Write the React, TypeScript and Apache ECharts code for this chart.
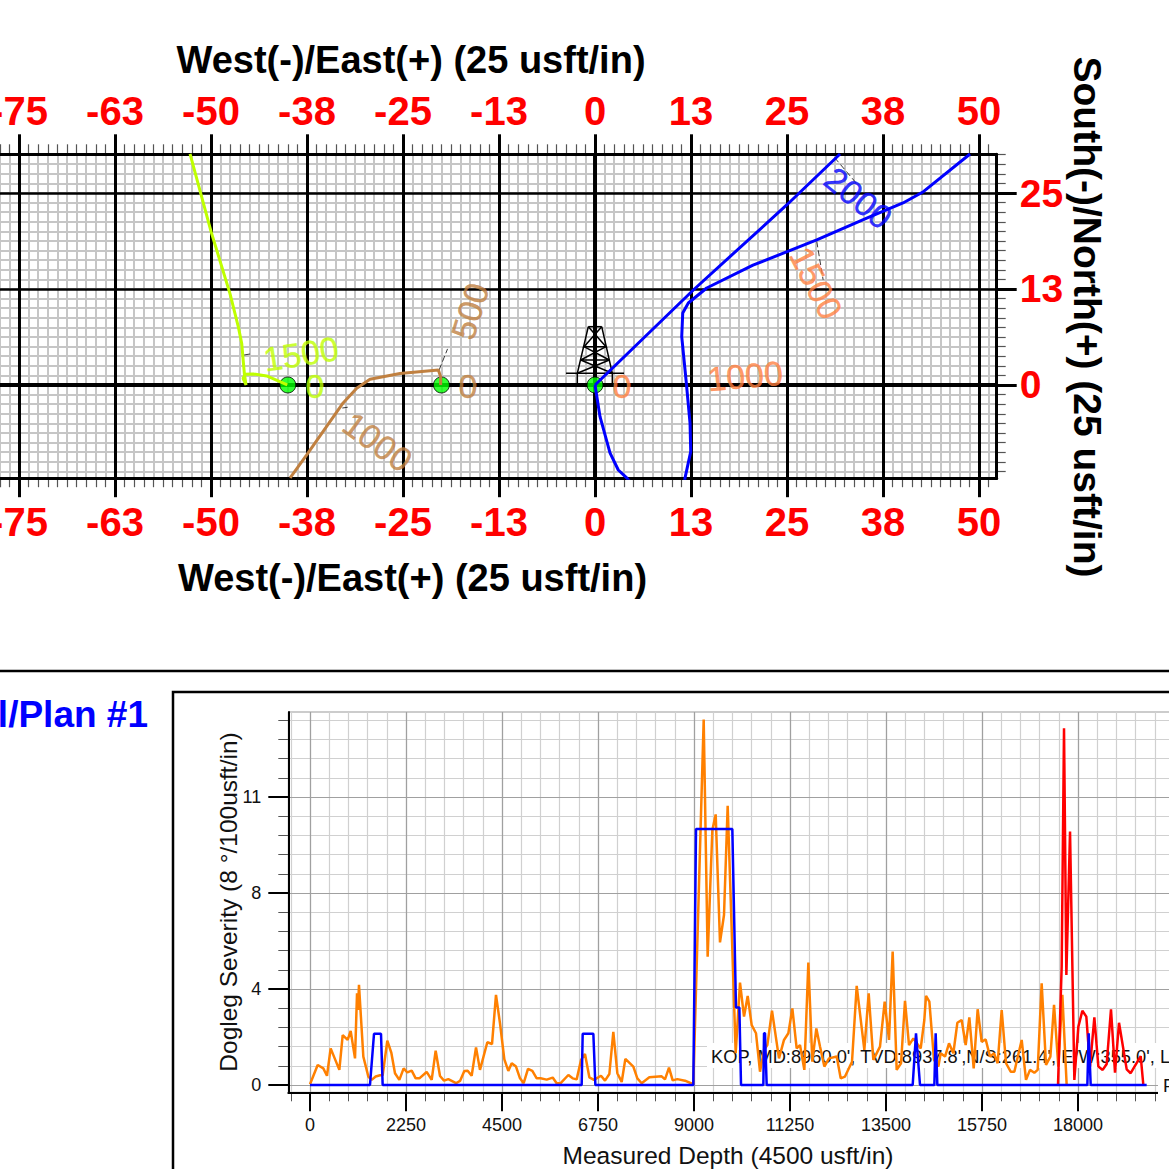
import React, { useEffect, useRef } from "react";
import * as echarts from "echarts";

// ---------- Plan view: axis ticks ----------
const ewTickValues = [-75, -62.5, -50, -37.5, -25, -12.5, 0, 12.5, 25, 37.5, 50];
const ewTickLabels = ["-75", "-63", "-50", "-38", "-25", "-13", "0", "13", "25", "38", "50"];
const nsTickValues = [0, 12.5, 25];
const nsTickLabels = ["0", "13", "25"];

// ---------- Plan view: wells (E/W, N/S in usft/in chart units) ----------
const limeWell = [[-40.07, 0], [-42.75, 1.17], [-44.5, 1.43], [-45.57, 1.39], [-45.83, 0.87], [-45.44, 0], [-45.66, 1.5], [-46.0, 5.4], [-46.45, 7.6], [-47.53, 11.9], [-50.0, 20], [-52.73, 30.1]];
const brownWell = [[-20.1, 0], [-20.1, 1.08], [-20.4, 1.95], [-25.4, 1.5], [-29.3, 0.74], [-31.03, -0.43], [-32.8, -2.34], [-37.54, -9.11], [-39.7, -12.1]];
const planWell = [[0, 0], [12.8, 12.37], [24.96, 23.44], [31.9, 30.08]];
const actualWell = [[0, 0], [0.65, -4.13], [1.95, -8.85], [3.03, -11.07], [4.13, -12.1], [4.9, -13], [11.6, -13], [11.72, -12.1], [12.46, -8.68], [12.37, -4.95], [11.85, 0.65], [11.29, 6.29], [11.42, 9.375], [12.15, 10.68], [14.54, 12.63], [20.57, 15.6], [28.87, 18.9], [35.38, 21.74], [40.1, 23.7], [42.75, 25.17], [48.83, 30.08]];
const surfaceLocations = [[-40, 0], [-20, 0], [0, 0]];
const zeroNS = [[-87.5, 0], [52.3, 0]];
const zeroEW = [[0, -12.14], [0, 30.04]];
const leaderLines = [
  [[-45.7, 3.9], [-44.9, 4.04]],
  [[-32.9, -3.0], [-32.2, -2.9]],
  [[-20.3, 1.95], [-19.2, 4.7]],
  [[11.9, 1.17], [12.7, 1.17]],
  [[28.87, 18.7], [29.7, 13.7]],
  [[31.2, 29.6], [34.0, 26.3]],
];
const depthLabels: [number, number, string, number, string][] = [
  [-38.28, 4.04, "1500", 9, "#BFFF00"],
  [-36.46, -0.13, "0", 0, "#BFFF00"],
  [-16.54, -0.13, "0", 0, "#C08040"],
  [-16.28, 9.6, "500", 73, "#C08040"],
  [-28.3, -7.42, "1000", -36, "#C08040"],
  [3.52, -0.13, "0", 0, "#FF8040"],
  [19.53, 1.17, "1000", 5, "#FF8040"],
  [28.78, 13.28, "1500", -63, "#FF8040"],
  [34.3, 24.35, "2000", -39, "#0000FF"],
];
// Rig symbol strokes, screen offsets from the surface location
const rigStrokes = [
  [[-6.7, -58.3], [6.7, -58.3]],
  [[-6.7, -58.3], [-17.7, -11.7], [-17.7, 0]],
  [[6.7, -58.3], [17.3, -11.7], [17.3, 0]],
  [[-29, -11.7], [29, -11.7]],
  [[-6.7, -58.3], [11, -38.3], [-11, -38.3], [6.7, -58.3]],
  [[-11, -38.3], [14.3, -25], [-14.3, -25], [11, -38.3]],
  [[-14.3, -25], [17.3, -11.7]],
  [[14.3, -25], [-17.7, -11.7]],
];

// ---------- Dogleg severity: axis ticks ----------
const mdTickValues = [0, 2250, 4500, 6750, 9000, 11250, 13500, 15750, 18000];
const mdTickLabels = ["0", "2250", "4500", "6750", "9000", "11250", "13500", "15750", "18000"];
const dlsTickValues = [0, 3.75, 7.5, 11.25];
const dlsTickLabels = ["0", "4", "8", "11"];

// ---------- Dogleg severity: series (MD, DLS) ----------
const orangeDogleg = [[0, 0.03], [180, 0.78], [312, 0.65], [398, 0.36], [484, 1.43], [688, 0.59], [766, 1.95], [883, 1.76], [953, 2.11], [1055, 1.04], [1102, 3.58], [1125, 2.93], [1148, 3.91], [1250, 1.11], [1367, 0.33], [1445, 0.2], [1539, 0.33], [1641, 0.38], [1703, 0.38], [1812, 1.73], [1906, 1.26], [1992, 0.46], [2094, 0.2], [2195, 0.65], [2281, 0.49], [2383, 0.56], [2477, 0.26], [2563, 0.26], [2734, 0.51], [2852, 0.2], [2945, 1.34], [3047, 0.35], [3141, 0.17], [3242, 0.23], [3422, 0.07], [3516, 0.16], [3617, 0.55], [3695, 0.56], [3789, 0.36], [3891, 1.47], [3984, 0.59], [4156, 1.67], [4266, 1.6], [4359, 3.52], [4453, 2.41], [4555, 1.0], [4648, 0.55], [4727, 0.85], [4828, 0.72], [4922, 0.26], [5008, 0.07], [5109, 0.63], [5211, 0.55], [5313, 0.26], [5406, 0.26], [5547, 0.21], [5688, 0.29], [5781, 0.07], [5875, 0.07], [6055, 0.39], [6156, 0.26], [6250, 0.22], [6352, 0.98], [6445, 1.21], [6547, 0.3], [6656, 0.2], [6820, 0.36], [6914, 0.17], [7016, 0.43], [7109, 2.08], [7203, 0.46], [7305, 0.12], [7391, 1.02], [7578, 0.72], [7672, 0.26], [7773, 0.07], [7953, 0.3], [8242, 0.34], [8320, 0.22], [8414, 0.68], [8500, 0.18], [8609, 0.23], [8789, 0.17], [8984, 0.03], [9227, 14.28], [9320, 5.01], [9430, 9.96], [9508, 10.57], [9609, 5.57], [9703, 6.64], [9789, 10.91], [9977, 1.24], [10078, 4.0], [10172, 2.67], [10258, 3.48], [10352, 2.34], [10453, 2.02], [10547, 0.52], [10641, 1.37], [10719, 1.56], [10828, 2.9], [10992, 1.04], [11109, 1.76], [11211, 2.02], [11305, 2.99], [11406, 1.43], [11484, 1.56], [11586, 0.59], [11680, 4.78], [11773, 0.91], [11867, 2.21], [11953, 1.5], [12055, 0.72], [12164, 1.04], [12344, 1.11], [12438, 0.26], [12539, 0.33], [12703, 0.91], [12813, 3.87], [12992, 1.37], [13094, 3.58], [13203, 0.98], [13359, 1.5], [13469, 3.26], [13570, 1.76], [13656, 5.21], [13750, 0.59], [13852, 0.85], [13945, 3.29], [14039, 1.56], [14141, 1.82], [14313, 1.43], [14398, 2.54], [14438, 3.48], [14516, 3.26], [14625, 0.98], [14727, 0.72], [14781, 1.24], [14883, 1.11], [14977, 1.63], [15078, 1.24], [15172, 2.43], [15273, 2.54], [15367, 1.56], [15453, 2.64], [15555, 0.65], [15648, 2.96], [15742, 1.69], [15836, 1.78], [15938, 1.11], [16031, 1.24], [16117, 0.85], [16211, 2.93], [16313, 0.85], [16422, 0.52], [16508, 0.52], [16680, 1.76], [16781, 0.2], [16875, 0.59], [16977, 0.48], [17055, 0.59], [17148, 3.97], [17250, 0.78], [17352, 1.11], [17438, 3.13], [17539, 0.72], [17633, 3.52], [17734, 0]];
const redDogleg = [[17531, 0], [17617, 4.62], [17672, 13.93], [17727, 4.3], [17813, 9.9], [17914, 0.2], [18008, 2.28], [18102, 2.9], [18195, 2.67], [18281, 0.72], [18383, 2.64], [18477, 0.72], [18578, 0.59], [18672, 0.82], [18773, 2.96], [18867, 0.48], [18961, 2.43], [19141, 0.61], [19234, 0.46], [19469, 1.13], [19531, 0]];
const blueDogleg = [[0, 0], [1406, 0], [1500, 2], [1664, 2], [1703, 0], [6367, 0], [6391, 2], [6641, 2], [6688, 0], [8984, 0], [9047, 10], [9898, 10], [9984, 3.03], [10063, 3.03], [10102, 0], [10625, 0], [10641, 2.02], [10664, 2.02], [10703, 0], [14125, 0], [14203, 2.02], [14297, 0], [14633, 0], [14664, 2.02], [14703, 0], [18219, 0], [18250, 2.02], [18297, 0], [19609, 0]];

const kopText = "KOP, MD:8960.0', TVD:8937.8',N/S:261.4', E/W:355.0', L";
const FONT = "'Liberation Sans', Arial, sans-serif";

function steps(from: number, to: number, step: number): number[] {
  const out: number[] = [];
  const n = Math.round((to - from) / step);
  for (let i = 0; i <= n; i++) out.push(from + i * step);
  return out;
}
function labeller(values: number[], labels: string[]) {
  const m = new Map(values.map((v, i) => [v, labels[i]]));
  return (v: number) => m.get(v) ?? "";
}

function buildOption() {
  const ewMinor = steps(-87.5, 51.25, 1.25);
  const nsMinor = steps(-11.25, 30, 1.25);
  const mdMinor = steps(-450, 20250, 450);
  const dlsMinor = steps(0, 14.25, 0.75);

  const base = (extra: any) => ({ type: "value", axisLine: { onZero: false, show: false }, axisLabel: { show: false }, axisTick: { show: false }, splitLine: { show: false }, ...extra });
  const bigLabel = (values: number[], labels: string[], margin: number, fontSize: number) => ({
    show: true,
    margin,
    fontFamily: FONT,
    fontWeight: "bold",
    fontSize,
    color: "#FF0000",
    customValues: values,
    formatter: labeller(values, labels),
  });
  const smallLabel = (values: number[], labels: string[], margin: number) => ({
    show: true,
    margin,
    fontFamily: FONT,
    fontSize: 18,
    color: "#111111",
    customValues: values,
    formatter: labeller(values, labels),
  });
  const topXRange = { gridIndex: 0, min: -87.5, max: 52.3 };
  const topYRange = { gridIndex: 0, min: -12.14, max: 30.04 };
  const lowXRange = { gridIndex: 1, min: -508.6, max: 20859 };
  const lowYRange = { gridIndex: 1, min: -0.285, max: 14.57 };
  const black3 = { show: true, onZero: false, lineStyle: { color: "#000", width: 3 } };
  const black2 = { show: true, onZero: false, lineStyle: { color: "#000", width: 2 } };
  const lightPlan = { show: true, lineStyle: { color: "#C6C6C6", width: 2 } };
  const minorPlanTick = { color: "#555", width: 1.2 };
  const lightDogleg = { show: true, lineStyle: { color: "#D0D0D0", width: 1.2 } };
  const darkDogleg = { show: true, lineStyle: { color: "#A0A0A0", width: 1.2 } };

  const xAxis = [
    // 0: plan, bottom major
    base({ ...topXRange, position: "bottom", z: 1, axisLine: black3, axisLabel: bigLabel(ewTickValues, ewTickLabels, 24, 40),
      axisTick: { show: true, length: 19, customValues: ewTickValues, lineStyle: { color: "#000", width: 3 } },
      splitLine: { show: true, lineStyle: { color: "#000", width: 3 } } }),
    // 1: plan, top major
    base({ ...topXRange, position: "top", z: 1, axisLine: black3, axisLabel: bigLabel(ewTickValues, ewTickLabels, 23, 40),
      axisTick: { show: true, length: 20, customValues: ewTickValues, lineStyle: { color: "#000", width: 3 } } }),
    // 2: plan, bottom minor
    base({ ...topXRange, position: "bottom", z: 0,
      axisTick: { show: true, length: 9, customValues: ewMinor, lineStyle: minorPlanTick },
      splitLine: lightPlan }),
    // 3: plan, top minor
    base({ ...topXRange, position: "top", z: 0,
      axisTick: { show: true, length: 10, customValues: ewMinor, lineStyle: minorPlanTick } }),
    // 4: dogleg, major
    base({ ...lowXRange, position: "bottom", z: 1, axisLine: black2, axisLabel: smallLabel(mdTickValues, mdTickLabels, 24),
      axisTick: { show: true, length: 19, customValues: mdTickValues, lineStyle: { color: "#000", width: 2 } },
      splitLine: darkDogleg }),
    // 5: dogleg, minor
    base({ ...lowXRange, position: "bottom", z: 0,
      axisTick: { show: true, length: 9, customValues: mdMinor, lineStyle: { color: "#555", width: 1 } },
      splitLine: lightDogleg }),
  ];
  const yAxis = [
    base({ ...topYRange, position: "right", z: 1, axisLine: black3, axisLabel: bigLabel(nsTickValues, nsTickLabels, 23, 39),
      axisTick: { show: true, length: 20, customValues: nsTickValues, lineStyle: { color: "#000", width: 3 } },
      splitLine: { show: true, lineStyle: { color: "#000", width: 2.5 } } }),
    base({ ...topYRange, position: "right", z: 0,
      axisTick: { show: true, length: 9, customValues: nsMinor, lineStyle: minorPlanTick },
      splitLine: lightPlan }),
    base({ ...lowYRange, position: "left", z: 1, axisLine: black2, axisLabel: smallLabel(dlsTickValues, dlsTickLabels, 27),
      axisTick: { show: true, length: 20, customValues: dlsTickValues, lineStyle: { color: "#000", width: 2 } },
      splitLine: darkDogleg }),
    base({ ...lowYRange, position: "left", z: 0,
      axisTick: { show: true, length: 10, customValues: dlsMinor, lineStyle: { color: "#555", width: 1 } },
      splitLine: lightDogleg }),
  ];

  const planLine = (name: string, data: number[][], color: string, width: number, z = 4, extra: any = {}) => ({
    type: "line", name, data, xAxisIndex: 0, yAxisIndex: 0, symbol: "none", silent: true, z,
    lineStyle: { color, width, ...extra }, itemStyle: { color },
  });
  const doglegLine = (name: string, data: number[][], color: string, width: number, z: number) => ({
    type: "line", name, data, xAxisIndex: 4, yAxisIndex: 2, symbol: "none", silent: true, z,
    lineStyle: { color, width }, itemStyle: { color },
  });

  const leaders: (number | null)[][] = [];
  leaderLines.forEach((l) => { leaders.push(l[0], l[1], [null, null]); });

  const series: any[] = [
    planLine("zero N/S", zeroNS, "#000", 4, 2),
    planLine("zero E/W", zeroEW, "#000", 4, 2),
    {
      type: "custom", name: "rig", xAxisIndex: 0, yAxisIndex: 0, data: [[0, 0]], silent: true, z: 3, clip: false,
      renderItem: (_p: any, api: any) => {
        const [cx, cy] = api.coord([api.value(0), api.value(1)]);
        return {
          type: "group", x: cx, y: cy,
          children: rigStrokes.map((pts) => ({
            type: "polyline", shape: { points: pts }, style: { stroke: "#000", lineWidth: 1.5, fill: "none" },
          })),
        };
      },
    },
    {
      type: "scatter", name: "surface", data: surfaceLocations, xAxisIndex: 0, yAxisIndex: 0, symbolSize: 16, silent: true, z: 3,
      itemStyle: { color: "#00FF00", borderColor: "#000", borderWidth: 1 },
    },
    planLine("leaders", leaders as any, "#222", 0.9, 3, { type: [6, 3] }),
    planLine("lime well", limeWell, "#BFFF00", 3),
    planLine("brown well", brownWell, "#C08040", 3),
    planLine("plan well", planWell, "#0000FF", 3),
    planLine("actual well", actualWell, "#0000FF", 3),
    {
      type: "scatter", name: "depth labels", xAxisIndex: 0, yAxisIndex: 0, symbolSize: 1, silent: true, z: 5,
      itemStyle: { color: "transparent" },
      data: depthLabels.map(([x, y, text, rotate, color]) => ({
        value: [x, y],
        label: { show: true, position: "inside", formatter: text, rotate, color, fontFamily: FONT, fontSize: 34, align: "center", verticalAlign: "middle", textBorderColor: color, textBorderWidth: 0.4 },
      })),
    },
    doglegLine("orange dogleg", orangeDogleg, "#FF8000", 2.5, 3),
    doglegLine("red dogleg", redDogleg, "#FF0000", 2.5, 4),
    doglegLine("blue dogleg", blueDogleg, "#0000FF", 2.5, 4),
  ];

  const titleStyle = { fontFamily: FONT, fontWeight: "bold", fontSize: 38, fill: "#000", textAlign: "center", textVerticalAlign: "middle" };
  const graphic = [
    { type: "text", x: 411, y: 60, z: 10, style: { ...titleStyle, text: "West(-)/East(+) (25 usft/in)" } },
    { type: "text", x: 412.5, y: 578, z: 10, style: { ...titleStyle, text: "West(-)/East(+) (25 usft/in)" } },
    { type: "text", x: 1087, y: 317, z: 10, rotation: -Math.PI / 2, style: { ...titleStyle, fontSize: 39, text: "South(-)/North(+) (25 usft/in)" } },
    { type: "line", z: 10, shape: { x1: 0, y1: 671, x2: 1169, y2: 671 }, style: { stroke: "#000", lineWidth: 2.5 } },
    { type: "rect", z: 10, shape: { x: 173, y: 692, width: 1100, height: 600 }, style: { fill: "none", stroke: "#000", lineWidth: 2.5 } },
    { type: "text", x: 148, y: 714, z: 10, style: { fontFamily: FONT, fontWeight: "bold", fontSize: 37, fill: "#0000FF", text: "l/Plan #1", textAlign: "right", textVerticalAlign: "middle" } },
    { type: "rect", z: 1.5, shape: { x: 707, y: 1043, width: 470, height: 25 }, style: { fill: "#fff" } },
    { type: "text", x: 711, y: 1056, z: 1.6, style: { fontFamily: FONT, fontSize: 18.3, fill: "#111", text: kopText, textAlign: "left", textVerticalAlign: "middle" } },
    { type: "rect", z: 1.5, shape: { x: 1158, y: 1072, width: 20, height: 26 }, style: { fill: "#fff" } },
    { type: "text", x: 1163, y: 1085, z: 1.6, style: { fontFamily: FONT, fontSize: 18.3, fill: "#111", text: "P", textAlign: "left", textVerticalAlign: "middle" } },
    { type: "text", x: 728, y: 1155, z: 10, style: { fontFamily: FONT, fontSize: 24.5, fill: "#111", text: "Measured Depth (4500 usft/in)", textAlign: "center", textVerticalAlign: "middle" } },
    { type: "text", x: 228, y: 902, z: 10, rotation: Math.PI / 2, style: { fontFamily: FONT, fontSize: 24.5, fill: "#111", text: "Dogleg Severity (8 °/100usft/in)", textAlign: "center", textVerticalAlign: "middle" } },
  ];

  return {
    animation: false,
    backgroundColor: "#fff",
    grid: [
      { left: -77, top: 154.3, width: 1073.7, height: 323.9, show: false, outerBoundsMode: "none" },
      { left: 288.3, top: 712, width: 911.7, height: 380.3, show: true, borderColor: "#999", borderWidth: 1, backgroundColor: "transparent", outerBoundsMode: "none" },
    ],
    xAxis,
    yAxis,
    series,
    graphic: { elements: graphic },
  };
}

export default function App() {
  const ref = useRef<HTMLDivElement>(null);
  useEffect(() => {
    document.body.style.margin = "0";
    const chart = echarts.init(ref.current!, undefined, { renderer: "svg" });
    chart.setOption(buildOption() as any);
    return () => chart.dispose();
  }, []);
  return <div ref={ref} style={{ position: "absolute", left: 0, top: 0, width: 1169, height: 1169, overflow: "hidden" }} />;
}
